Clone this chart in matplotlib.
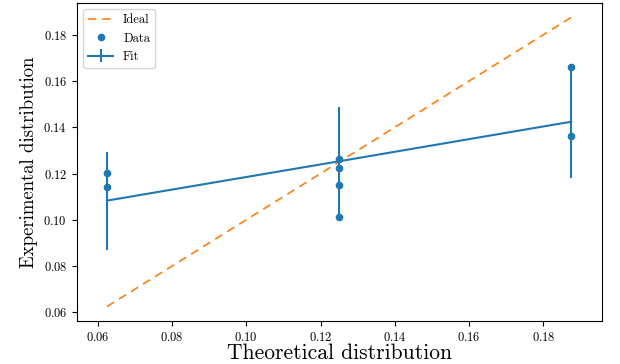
"""
Experimental vs theoretical distribution with linear fit.
"""

import numpy as np
import matplotlib
matplotlib.use('Agg')
import matplotlib.pyplot as plt

plt.rcParams['font.family'] = 'serif'
plt.rcParams['font.serif'] = ['cmr10']
plt.rcParams['mathtext.fontset'] = 'cm'
plt.rcParams['axes.formatter.use_mathtext'] = True

# Theoretical probabilities
theory = [0.0625, 0.125, 0.1875]

# Measured distribution (several runs per theoretical value)
data_x = [0.0625, 0.0625, 0.125, 0.125, 0.125, 0.125, 0.1875, 0.1875]
data_y = [0.1202, 0.1143, 0.1262, 0.1222, 0.1152, 0.1013, 0.1661, 0.1361]

# Linear fit at the theoretical points and its uncertainty
fit_y = [0.1083, 0.1253, 0.1424]
fit_err = [0.0212, 0.0233, 0.0243]

fig = plt.figure(figsize=(6.2, 3.64), dpi=100)
ax = fig.add_axes([0.124, 0.118, 0.847, 0.874])

ax.plot(theory, theory, '--', color='C1', linewidth=1.2, dashes=(5, 3.5), label='Ideal')
ax.plot(data_x, data_y, 'o', color='C0', markersize=4.5, linestyle='none', label='Data')
ax.errorbar(theory, fit_y, yerr=fit_err, color='C0', linewidth=1.5, label='Fit')

ax.set_xlim(0.0544, 0.1958)
ax.set_xlabel('Theoretical distribution', fontsize=15.5, labelpad=0)
ax.set_ylabel('Experimental distribution', fontsize=13.5, labelpad=4)
ax.tick_params(labelsize=9)
ax.legend(loc='upper left', fontsize=9)

fig.savefig('out.png', dpi=100)
